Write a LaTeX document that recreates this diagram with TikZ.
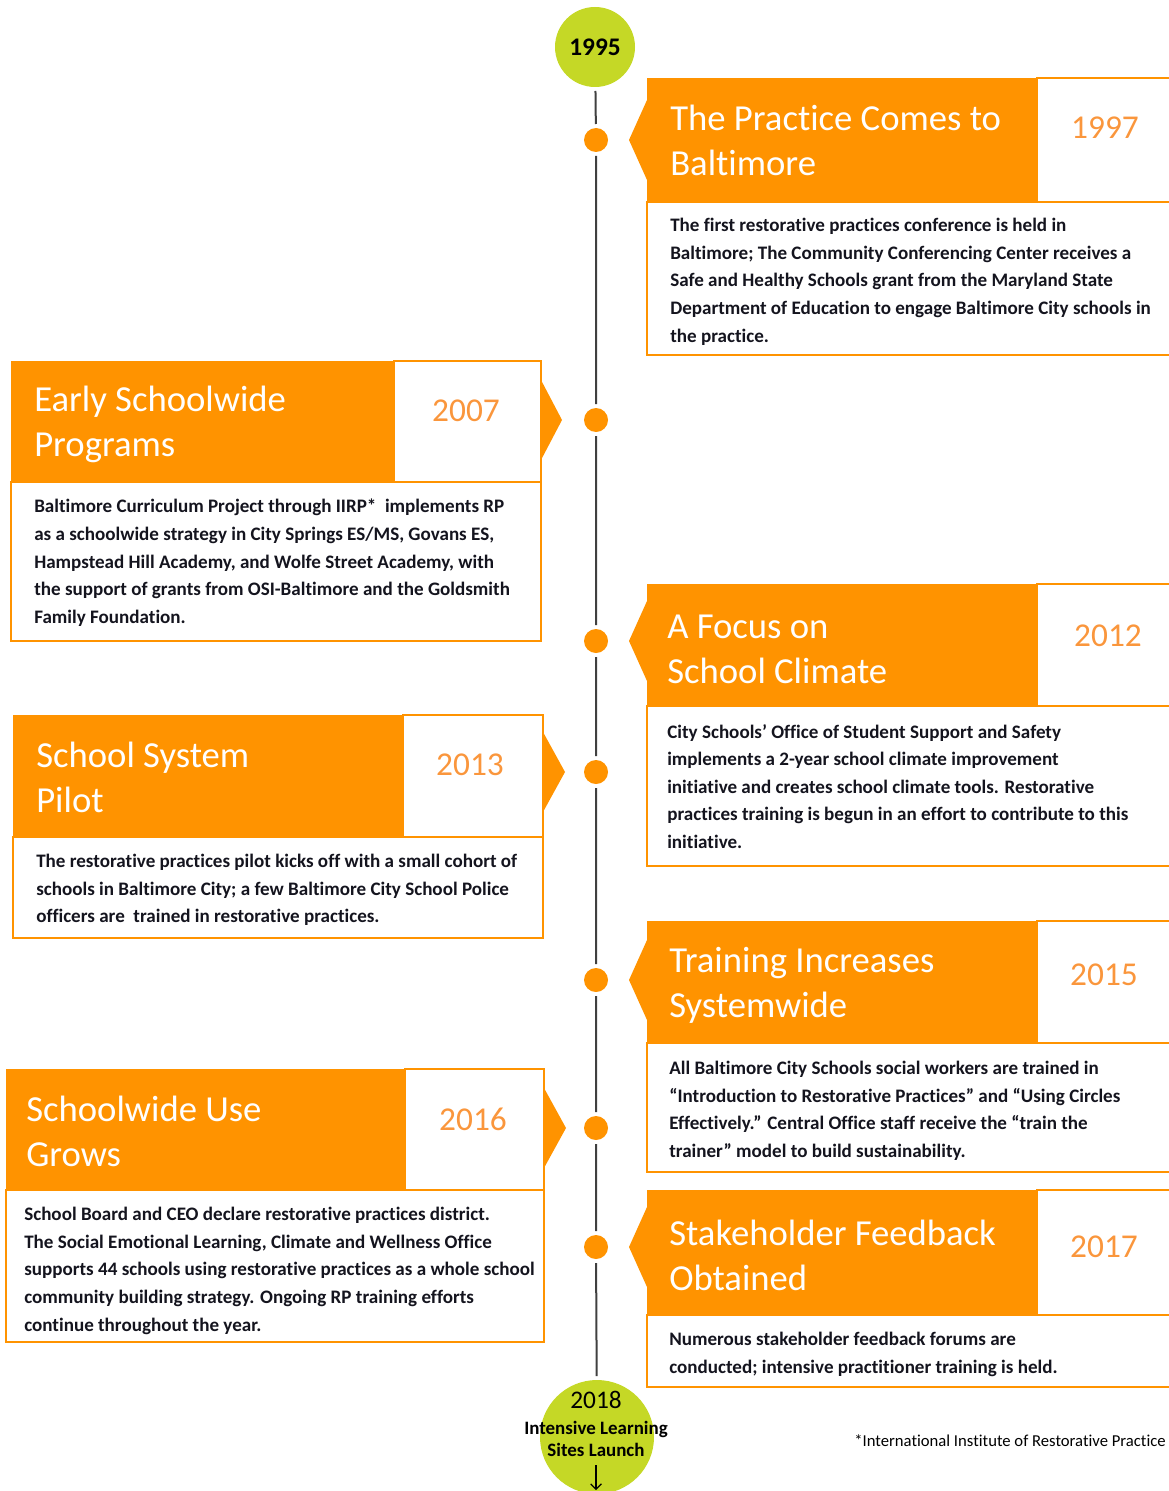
\documentclass[tikz,border=0pt]{standalone}
\usepackage{fontspec}
\setmainfont{Carlito}[Ligatures={TeX,NoCommon}]
\usepackage{tikz}
\usetikzlibrary{arrows.meta}
\definecolor{rporange}{RGB}{255,147,0}
\definecolor{rpyear}{RGB}{250,150,60}
\definecolor{rpgreen}{RGB}{197,216,38}
\definecolor{rpline}{RGB}{64,64,64}
\definecolor{rptext}{RGB}{20,20,30}

\begin{document}
\begin{tikzpicture}[x={(0.75pt,0pt)},y={(0pt,-0.75pt)},>={Straight Barb[length=4pt,width=8pt]}]
 \tikzstyle{dotnode} = [circle,fill=rporange,minimum size=18pt,inner sep=0,outer sep=3pt]
 \tikzstyle{yearcircle} = [circle,fill=rpgreen,inner sep=0,outer sep=3pt]
 \tikzstyle{headfill} = [fill=rporange]
 \tikzstyle{boxframe} = [draw=rporange,line width=1.9pt]
 \tikzstyle{headtext} = [anchor=west,text=white,align=left,inner sep=0,font=\fontsize{27.5}{33.75}\selectfont]
 \tikzstyle{yeartext} = [text=rpyear,inner sep=0,font=\fontsize{25}{30}\selectfont]
 \tikzstyle{bodytext} = [anchor=north west,text=rptext,align=left,inner sep=0,font=\bfseries\fontsize{14.3}{20.7}\selectfont]
 \newcommand{\rbl}{647}
 \newcommand{\rbs}{1037}
 \newcommand{\rbr}{1180}

 \useasboundingbox (0,0) rectangle (1169,1491);

 % Timeline
 \node[yearcircle,minimum size=60pt,font=\bfseries\fontsize{19}{20}\selectfont] (c1995) at (595,47) {1995};
 \node[dotnode] (d1997) at (596,140) {};
 \node[dotnode] (d2007) at (596,420) {};
 \node[dotnode] (d2012) at (596,641) {};
 \node[dotnode] (d2013) at (596,772) {};
 \node[dotnode] (d2015) at (596,980) {};
 \node[dotnode] (d2016) at (596,1128) {};
 \node[dotnode] (d2017) at (596,1247) {};
 \node[yearcircle,minimum size=85.5pt] (c2018) at (597,1437) {};
 \draw[rpline,line width=1.5pt] (c1995) -- (d1997) -- (d2007) -- (d2012) -- (d2013) -- (d2015) -- (d2016) -- (d2017) -- (c2018);
 \node[font=\fontsize{19}{20}\selectfont] (t2018) at (596,1400) {2018};
 \node[align=center,font=\bfseries\fontsize{14.2}{16.5}\selectfont] (l2018) at (596,1439) {Intensive Learning\\Sites Launch};
 \coordinate (a2018) at (596,1465);
 \coordinate (b2018) at (596,1490);
 \draw[->,line width=0.9pt] (a2018) -- (b2018);

 % Boxes on the right
 \fill[headfill] (\rbl,78) rectangle (\rbs,202);
 \fill[headfill] (\rbl,100) -- (629,140) -- (\rbl,180) -- cycle;
 \draw[boxframe] (\rbs,78) rectangle (\rbr,202);
 \draw[boxframe] (\rbl,202) rectangle (\rbr,355);
 \node[headtext] (h1997) at (670,140) {The Practice Comes to\\Baltimore};
 \node[yeartext] (y1997) at (1105,128) {1997};
 \node[bodytext] (b1997) at (670,218) {The first restorative practices conference is held in\\Baltimore; The Community Conferencing Center receives a\\Safe and Healthy Schools grant from the Maryland State\\Department of Education to engage Baltimore City schools in\\the practice.};

 \fill[headfill] (\rbl,584) rectangle (\rbs,706);
 \fill[headfill] (\rbl,601) -- (629,641) -- (\rbl,681) -- cycle;
 \draw[boxframe] (\rbs,584) rectangle (\rbr,706);
 \draw[boxframe] (\rbl,706) rectangle (\rbr,866);
 \node[headtext] (h2012) at (667,649) {A Focus on\\School Climate};
 \node[yeartext] (y2012) at (1108,636) {2012};
 \node[bodytext] (b2012) at (667,724) {City Schools' Office of Student Support and Safety\\implements a 2-year school climate improvement\\initiative and creates school climate tools. Restorative\\practices training is begun in an effort to contribute to this\\initiative.};

 \fill[headfill] (\rbl,921) rectangle (\rbs,1043);
 \fill[headfill] (\rbl,940) -- (629,980) -- (\rbl,1020) -- cycle;
 \draw[boxframe] (\rbs,921) rectangle (\rbr,1043);
 \draw[boxframe] (\rbl,1043) rectangle (\rbr,1172);
 \node[headtext] (h2015) at (669,985) {Training Increases\\Systemwide};
 \node[yeartext] (y2015) at (1104,975) {2015};
 \node[bodytext] (b2015) at (669,1061) {All Baltimore City Schools social workers are trained in\\“Introduction to Restorative Practices” and “Using Circles\\Effectively.” Central Office staff receive the “train the\\trainer” model to build sustainability.};

 \fill[headfill] (\rbl,1190) rectangle (\rbs,1315);
 \fill[headfill] (\rbl,1207) -- (629,1247) -- (\rbl,1287) -- cycle;
 \draw[boxframe] (\rbs,1190) rectangle (\rbr,1315);
 \draw[boxframe] (\rbl,1315) rectangle (\rbr,1387);
 \node[headtext] (h2017) at (669,1255) {Stakeholder Feedback\\Obtained};
 \node[yeartext] (y2017) at (1104,1247) {2017};
 \node[bodytext] (b2017) at (669,1332) {Numerous stakeholder feedback forums are\\conducted; intensive practitioner training is held.};

 % Boxes on the left
 \fill[headfill] (11,361) rectangle (394,482);
 \fill[headfill] (541,380) -- (562,420) -- (541,460) -- cycle;
 \draw[boxframe] (394,361) rectangle (541,482);
 \draw[boxframe] (11,482) rectangle (541,641);
 \node[headtext] (h2007) at (34,424) {Early Schoolwide\\Programs};
 \node[yeartext] (y2007) at (466,411) {2007};
 \node[bodytext] (b2007) at (34,499) {Baltimore Curriculum Project through IIRP*\ \ implements RP\\as a schoolwide strategy in City Springs ES/MS, Govans ES,\\Hampstead Hill Academy, and Wolfe Street Academy, with\\the support of grants from OSI-Baltimore and the Goldsmith\\Family Foundation.};

 \fill[headfill] (13,715) rectangle (403,837);
 \fill[headfill] (543,732) -- (565,772) -- (543,812) -- cycle;
 \draw[boxframe] (403,715) rectangle (543,837);
 \draw[boxframe] (13,837) rectangle (543,938);
 \node[headtext] (h2013) at (36,777) {School System\\Pilot};
 \node[yeartext] (y2013) at (470,765) {2013};
 \node[bodytext] (b2013) at (36,854) {The restorative practices pilot kicks off with a small cohort of\\schools in Baltimore City; a few Baltimore City School Police\\officers are\ \ trained in restorative practices.};

 \fill[headfill] (6,1069) rectangle (405,1190);
 \fill[headfill] (544,1088) -- (566,1128) -- (544,1168) -- cycle;
 \draw[boxframe] (405,1069) rectangle (544,1190);
 \draw[boxframe] (6,1190) rectangle (544,1342);
 \node[headtext] (h2016) at (26,1131) {Schoolwide Use\\Grows};
 \node[yeartext] (y2016) at (473,1119) {2016};
 \node[bodytext] (b2016) at (24,1207) {School Board and CEO declare restorative practices district.\\The Social Emotional Learning, Climate and Wellness Office\\supports 44 schools using restorative practices as a whole school\\community building strategy. Ongoing RP training efforts\\continue throughout the year.};

 % Footnote
 \node[anchor=base east,inner sep=0,font=\fontsize{12.5}{14}\selectfont] (note) at (1166,1446) {*International Institute of Restorative Practice};

\end{tikzpicture}
\end{document}
